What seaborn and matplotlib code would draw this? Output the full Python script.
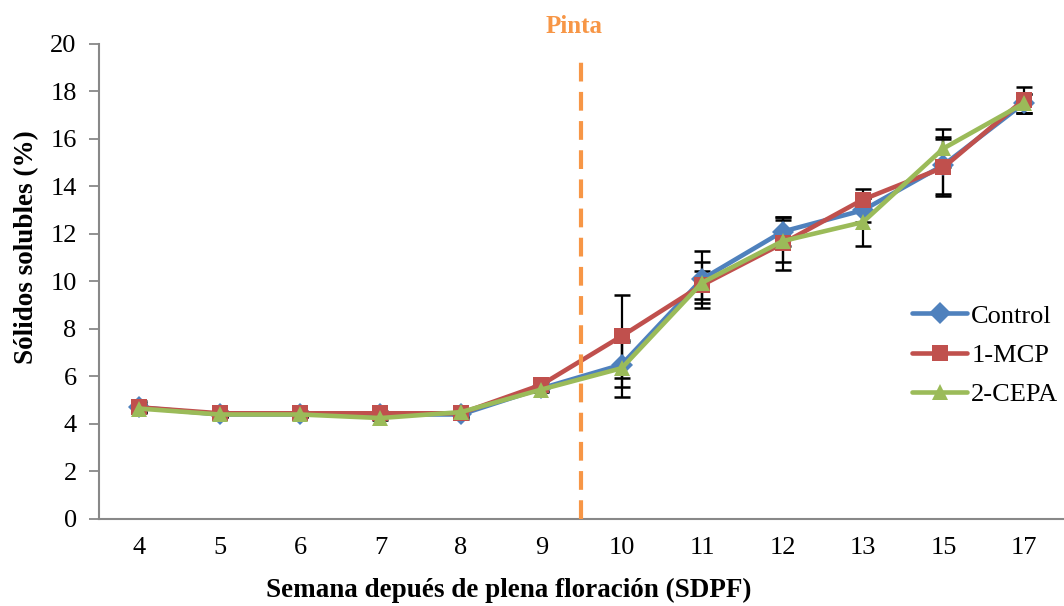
import numpy as np
import pandas as pd
import matplotlib
matplotlib.use("Agg")
import matplotlib.pyplot as plt
import seaborn as sns

# Data
weeks = ["4", "5", "6", "7", "8", "9", "10", "11", "12", "13", "15", "17"]
control = [4.7, 4.4, 4.4, 4.4, 4.4, 5.5, 6.5, 10.1, 12.1, 13.0, 14.9, 17.5]
mcp = [4.7, 4.45, 4.45, 4.45, 4.45, 5.65, 7.7, 9.85, 11.6, 13.45, 14.8, 17.65]
cepa = [4.65, 4.4, 4.4, 4.25, 4.5, 5.45, 6.35, 9.95, 11.7, 12.5, 15.6, 17.5]
control_err = [0.2, 0.1, 0.1, 0.1, 0.2, 0.1, 0.95, 1.2, 0.6, 0.5, 1.2, 0.4]
mcp_err = [0.25, 0.1, 0.1, 0.1, 0.15, 0.1, 1.75, 0.6, 1.1, 0.45, 1.2, 0.55]
cepa_err = [0.15, 0.1, 0.1, 0.1, 0.15, 0.1, 1.2, 0.85, 0.9, 1.0, 0.8, 0.4]
series_names = ["Control", "1-MCP", "2-CEPA"]
pinta_pos = 5.5  # between week 9 and week 10

sns.set_theme(style="white")
plt.rcParams["font.family"] = ["Liberation Serif", "DejaVu Serif"]
plt.rcParams["text.color"] = "black"
plt.rcParams["axes.labelcolor"] = "black"
plt.rcParams["xtick.color"] = "black"
plt.rcParams["ytick.color"] = "black"

colors = {"Control": "#4F81BD", "1-MCP": "#C0504D", "2-CEPA": "#9BBB59"}
markers = {"Control": "D", "1-MCP": "s", "2-CEPA": "^"}

pos = np.arange(len(weeks))
df = pd.concat([
    pd.DataFrame({"pos": pos, "valor": vals, "err": errs, "Tratamiento": name})
    for name, vals, errs in zip(series_names, [control, mcp, cepa],
                                [control_err, mcp_err, cepa_err])
], ignore_index=True)

fig = plt.figure(figsize=(10.64, 6.06), dpi=100)
ax = fig.add_axes([0.093, 0.1436, 0.907, 0.7838])

# error bars behind the lines
for name in series_names:
    sub = df[df["Tratamiento"] == name]
    ax.errorbar(sub["pos"], sub["valor"], yerr=sub["err"], fmt="none",
                ecolor="black", elinewidth=1.6, capsize=6, capthick=1.8, zorder=2)

sns.lineplot(data=df, x="pos", y="valor", hue="Tratamiento", style="Tratamiento",
             palette=colors, markers=markers, dashes=False, linewidth=3.3,
             markersize=11, markeredgewidth=0, ax=ax, zorder=3)

# Pinta marker line
ax.plot([pinta_pos, pinta_pos], [0, 19.6], color="#F79646", lw=3,
        dashes=(4.5, 2.5), zorder=4, clip_on=False)
ax.text(pinta_pos - 0.09, 20.75, "Pinta", color="#F79646", fontsize=18,
        fontweight="bold", ha="center", va="center")

ax.set_xlim(-0.5, 11.377)
ax.set_ylim(0, 20)
ax.set_yticks(np.arange(0, 21, 2))
ax.set_xticks(pos)
ax.set_xticklabels(weeks)
ax.set_xticks(np.arange(-0.5, 11.6, 1), minor=True)
ax.tick_params(axis="x", which="major", length=0, labelsize=19, pad=13)
ax.tick_params(axis="x", which="minor", length=7, width=1.3, color="#888888")
ax.tick_params(axis="y", length=7, width=1.3, color="#888888", labelsize=19,
               left=True, pad=9)

for side in ["top", "right"]:
    ax.spines[side].set_visible(False)
for side in ["left", "bottom"]:
    ax.spines[side].set_color("#888888")
    ax.spines[side].set_linewidth(1.5)

ax.set_xlabel("Semana depués de plena floración (SDPF)", fontsize=19.5,
              fontweight="bold")
ax.xaxis.set_label_coords(0.425, -0.124)
ax.set_ylabel("Sólidos solubles (%)", fontsize=19.5, fontweight="bold")
ax.yaxis.set_label_coords(-0.062, 0.573)

ax.legend(loc="center left", bbox_to_anchor=(0.857, 0.414), bbox_transform=fig.transFigure,
          frameon=False, fontsize=19, handlelength=2.1, labelspacing=0.6,
          handletextpad=0.15, borderaxespad=0, borderpad=0)

fig.savefig("out.png", dpi=100)
